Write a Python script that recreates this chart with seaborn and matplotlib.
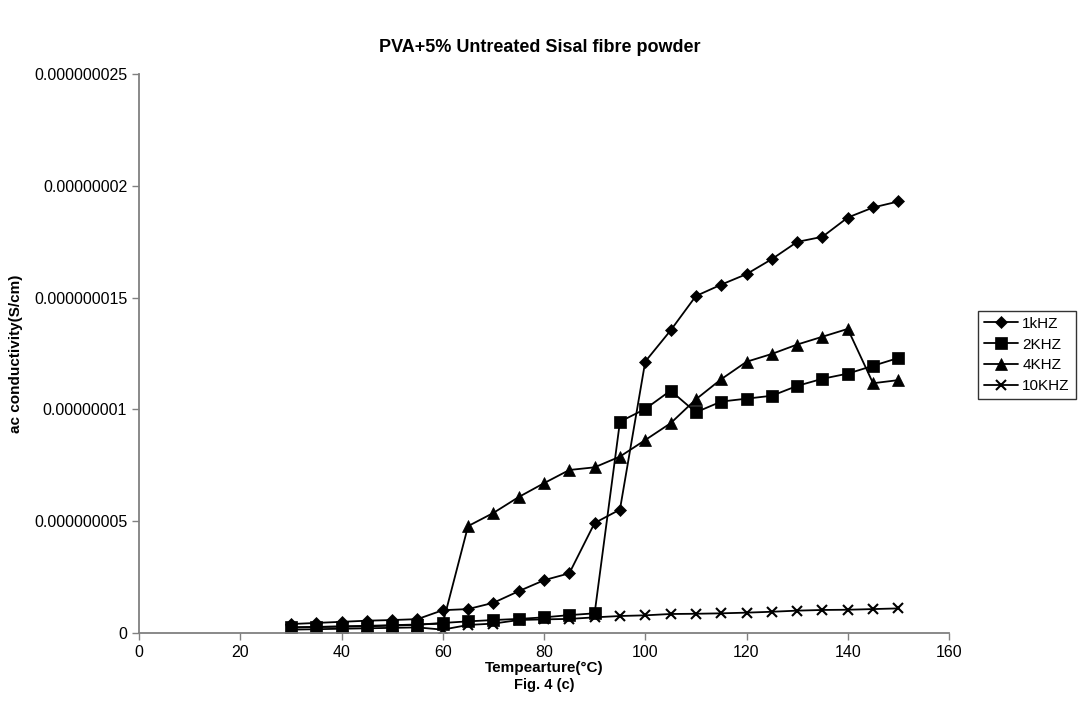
import numpy as np
import pandas as pd
import seaborn as sns
import matplotlib
matplotlib.use("Agg")
import matplotlib.pyplot as plt
from matplotlib.ticker import FixedLocator, FuncFormatter

# temperature (deg C)
temp = [30, 35, 40, 45, 50, 55, 60, 65, 70, 75, 80, 85, 90,
        95, 100, 105, 110, 115, 120, 125, 130, 135, 140, 145, 150]

# ac conductivity in units of 1e-9 S/cm
khz1 = [0.40, 0.45, 0.50, 0.55, 0.58, 0.62, 1.02, 1.07, 1.35, 1.87, 2.36, 2.67, 4.92,
        5.52, 12.14, 13.53, 15.07, 15.58, 16.05, 16.72, 17.49, 17.72, 18.58, 19.03, 19.30]
khz2 = [0.25, 0.27, 0.28, 0.30, 0.33, 0.37, 0.45, 0.52, 0.58, 0.63, 0.70, 0.80, 0.88,
        9.45, 10.02, 10.84, 9.87, 10.35, 10.48, 10.61, 11.05, 11.37, 11.60, 11.95, 12.30]
khz4 = [0.25, 0.27, 0.30, 0.32, 0.35, 0.38, 0.42, 4.78, 5.37, 6.08, 6.70, 7.29, 7.41,
        7.89, 8.63, 9.38, 10.45, 11.35, 12.13, 12.48, 12.90, 13.25, 13.60, 11.17, 11.31]
khz10 = [0.15, 0.17, 0.19, 0.21, 0.23, 0.25, 0.15, 0.36, 0.42, 0.58, 0.61, 0.63, 0.70,
         0.76, 0.79, 0.85, 0.86, 0.88, 0.91, 0.95, 1.00, 1.03, 1.04, 1.07, 1.10]

names = ["1kHZ", "2KHZ", "4KHZ", "10KHZ"]
marks = ["D", "s", "^", "x"]
sizes = [6.5, 8, 8, 7.5]

rows = []
for n, vals in zip(names, [khz1, khz2, khz4, khz10]):
    for t, v in zip(temp, vals):
        rows.append({"Temp": t, "Sigma": v * 1e-9, "Freq": n})
data = pd.DataFrame(rows)

sns.set_style("white")
plt.rcParams['font.family'] = ['Liberation Sans', 'DejaVu Sans']
plt.rcParams['text.color'] = 'black'
plt.rcParams['axes.labelcolor'] = 'black'
plt.rcParams['xtick.color'] = 'black'
plt.rcParams['ytick.color'] = 'black'

fig = plt.figure(figsize=(10.79, 7.19), dpi=100)
ax = fig.add_axes([139/1079, 1 - 633/719, 810/1079, 559/719])

for n, m, s in zip(names, marks, sizes):
    sub = data[data["Freq"] == n]
    sns.lineplot(data=sub, x="Temp", y="Sigma", ax=ax, color="black", lw=1.3,
                 marker=m, markersize=s, markeredgecolor="black",
                 markeredgewidth=1.5 if m == "x" else 0.5, label=n)

ax.set_xlim(0, 160)
ax.set_ylim(0, 2.5e-8)
ax.xaxis.set_major_locator(FixedLocator(np.arange(0, 161, 20)))
ax.yaxis.set_major_locator(FixedLocator([0, 5e-9, 1e-8, 1.5e-8, 2e-8, 2.5e-8]))
ylabs = {0: "0", 1: "0.000000005", 2: "0.00000001", 3: "0.000000015",
         4: "0.00000002", 5: "0.000000025"}
ax.yaxis.set_major_formatter(FuncFormatter(lambda v, p: ylabs.get(int(round(v / 5e-9)), "")))
ax.tick_params(axis="both", which="major", direction="out", length=5, width=1,
               color="#808080", labelsize=11.5, bottom=True, left=True)

for side in ["top", "right"]:
    ax.spines[side].set_visible(False)
for side in ["left", "bottom"]:
    ax.spines[side].set_color("#808080")
    ax.spines[side].set_linewidth(1.3)

ax.set_xlabel("")
ax.set_ylabel("ac conductivity(S/cm)", fontsize=11, fontweight="bold", labelpad=8)
fig.text(544/1079, 1 - 668/719, "Tempearture(°C)", ha="center", va="center",
         fontsize=11, fontweight="bold")
fig.text(544/1079, 1 - 685/719, "Fig. 4 (c)", ha="center", va="center",
         fontsize=10.5, fontweight="bold")
fig.text(540/1079, 1 - 47/719, "PVA+5% Untreated Sisal fibre powder", ha="center",
         va="center", fontsize=13, fontweight="bold")

leg = ax.legend(loc="center left", bbox_to_anchor=(978/1079, 1 - 355/719),
                bbox_transform=fig.transFigure, frameon=True, fancybox=False,
                fontsize=11, handlelength=2.2, handletextpad=0.3,
                borderpad=0.4, labelspacing=0.45, borderaxespad=0)
leg.get_frame().set_edgecolor("black")
leg.get_frame().set_linewidth(1)

fig.savefig("out.png", dpi=100)
